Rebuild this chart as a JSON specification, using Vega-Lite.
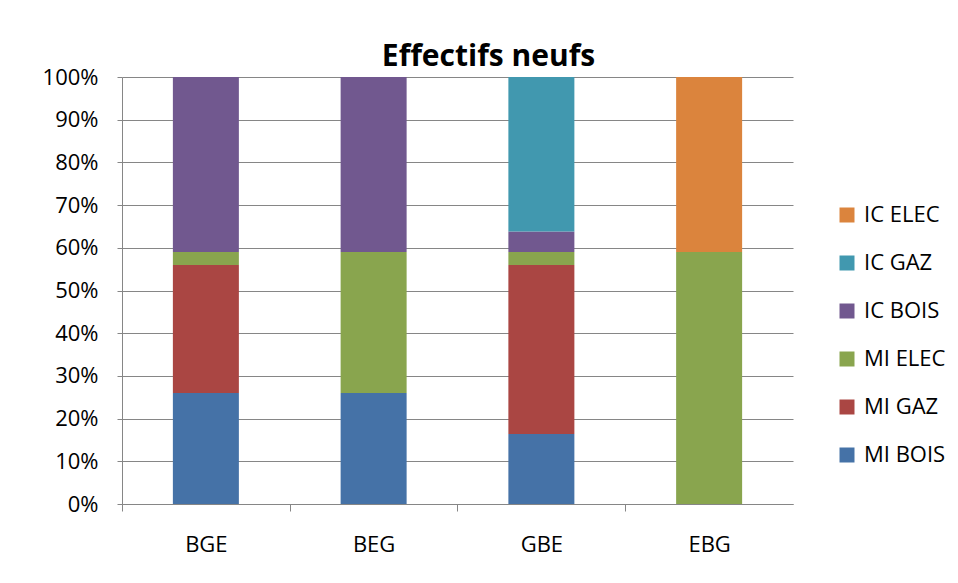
{
  "$schema": "https://vega.github.io/schema/vega-lite/v6.json",
  "width": 671,
  "height": 427,
  "autosize": {"type": "none"},
  "padding": {"left": 122, "top": 77, "right": 165, "bottom": 79},
  "background": "white",
  "title": {
    "text": "Effectifs neufs",
    "font": "Open Sans",
    "fontSize": 30,
    "fontWeight": "bold",
    "color": "#000000",
    "anchor": "middle",
    "dx": 31,
    "offset": -6
  },
  "data": {
    "values": [
      {"cat": "BGE", "serie": "MI BOIS", "v": 0.26},
      {"cat": "BGE", "serie": "MI GAZ", "v": 0.30},
      {"cat": "BGE", "serie": "MI ELEC", "v": 0.03},
      {"cat": "BGE", "serie": "IC BOIS", "v": 0.41},
      {"cat": "BEG", "serie": "MI BOIS", "v": 0.26},
      {"cat": "BEG", "serie": "MI ELEC", "v": 0.33},
      {"cat": "BEG", "serie": "IC BOIS", "v": 0.41},
      {"cat": "GBE", "serie": "MI BOIS", "v": 0.164},
      {"cat": "GBE", "serie": "MI GAZ", "v": 0.396},
      {"cat": "GBE", "serie": "MI ELEC", "v": 0.03},
      {"cat": "GBE", "serie": "IC BOIS", "v": 0.048},
      {"cat": "GBE", "serie": "IC GAZ", "v": 0.362},
      {"cat": "EBG", "serie": "MI ELEC", "v": 0.59},
      {"cat": "EBG", "serie": "IC ELEC", "v": 0.41}
    ]
  },
  "transform": [
    {"calculate": "indexof(['MI BOIS','MI GAZ','MI ELEC','IC BOIS','IC GAZ','IC ELEC'], datum.serie)", "as": "k"}
  ],
  "mark": {"type": "bar", "size": 66},
  "encoding": {
    "x": {
      "field": "cat",
      "type": "nominal",
      "sort": ["BGE", "BEG", "GBE", "EBG"],
      "title": null,
      "axis": {
        "labelAngle": 0,
        "labelFont": "Open Sans",
        "labelFontSize": 22,
        "labelColor": "#000000",
        "labelPadding": 23,
        "labelOffset": 83.9,
        "domainColor": "#868686",
        "tickColor": "#868686",
        "tickSize": 7,
        "tickOffset": -83.9
      }
    },
    "y": {
      "field": "v",
      "type": "quantitative",
      "stack": "zero",
      "title": null,
      "scale": {"domain": [0, 1], "nice": false},
      "axis": {
        "format": ".0%",
        "values": [0, 0.1, 0.2, 0.3, 0.4, 0.5, 0.6, 0.7, 0.8, 0.9, 1],
        "labelFont": "Open Sans",
        "labelFontSize": 22,
        "labelColor": "#000000",
        "labelPadding": 19,
        "grid": true,
        "gridColor": "#868686",
        "gridWidth": 1,
        "domainColor": "#868686",
        "tickColor": "#868686",
        "tickSize": 5
      }
    },
    "order": {"field": "k", "type": "quantitative", "sort": "ascending"},
    "color": {
      "field": "serie",
      "type": "nominal",
      "scale": {
        "domain": ["MI BOIS", "MI GAZ", "MI ELEC", "IC BOIS", "IC GAZ", "IC ELEC"],
        "range": ["#4572A7", "#AA4643", "#89A54E", "#71588F", "#4198AF", "#DB843D"]
      },
      "legend": {
        "title": null,
        "orient": "none",
        "legendX": 714,
        "legendY": 127,
        "padding": 0,
        "values": ["IC ELEC", "IC GAZ", "IC BOIS", "MI ELEC", "MI GAZ", "MI BOIS"],
        "symbolType": "square",
        "symbolSize": 225,
        "symbolStrokeWidth": 0,
        "labelFont": "Open Sans",
        "labelFontSize": 22,
        "labelColor": "#000000",
        "labelOffset": 6,
        "rowPadding": 26
      }
    }
  },
  "config": {
    "view": {"stroke": null}
  }
}
